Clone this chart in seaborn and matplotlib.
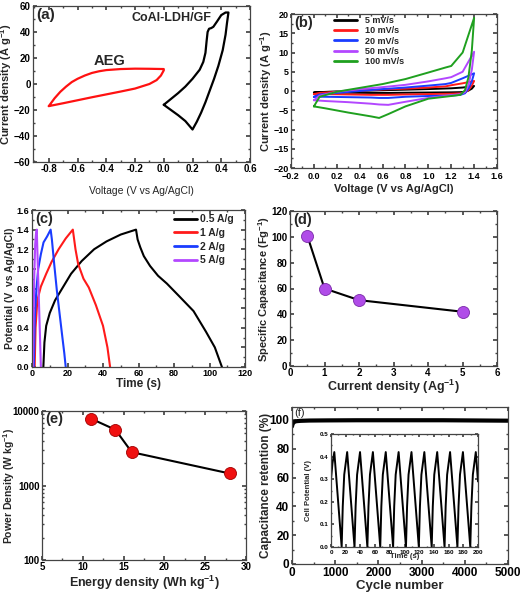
import matplotlib
matplotlib.use("Agg")
import matplotlib.pyplot as plt
import numpy as np
import pandas as pd
import seaborn as sns
from matplotlib.ticker import MultipleLocator, AutoMinorLocator, LogLocator, NullFormatter

# ── Data ─────────────────────────────────────────────────────────────────────
# (a) three-electrode CVs
aeg_v = [-0.8, -0.76, -0.72, -0.68, -0.64, -0.6, -0.55, -0.5, -0.45, -0.4, -0.3, -0.2, -0.1, 0.0,
         0.0, -0.02, -0.05, -0.1, -0.2, -0.3, -0.4, -0.5, -0.6, -0.7, -0.8]
aeg_i = [-17, -11, -6, -2, 1.5, 4, 6.5, 8.5, 9.8, 10.7, 11.5, 11.8, 11.7, 11.5,
         10.5, 6.5, 3, 0, -3.5, -5.8, -8, -10.2, -12.5, -14.8, -17]
ldh_v = [0.0, 0.05, 0.1, 0.15, 0.2, 0.23, 0.26, 0.29, 0.32, 0.35, 0.38, 0.41, 0.43, 0.44, 0.45,
         0.43, 0.4, 0.37, 0.345, 0.33, 0.315, 0.305, 0.298, 0.29, 0.275, 0.25, 0.2, 0.15, 0.1, 0.05, 0.0]
ldh_i = [-16, -20, -24, -28.5, -35, -29, -22, -14, -5, 4, 14, 26, 38, 47, 55,
         55, 53, 48, 44, 43, 42.5, 40, 33, 24, 17, 11, 4, -2, -7, -11.5, -16]

# (b) CVs at different scan rates
cv_v = [0.0, 0.05, 0.2, 0.4, 0.6, 0.8, 1.0, 1.15, 1.2, 1.3, 1.4,
        1.38, 1.35, 1.32, 1.28, 1.2, 1.0, 0.8, 0.65, 0.57, 0.5, 0.3, 0.1, 0.0]
cv_5 = [-0.4, -0.3, -0.1, 0.05, 0.2, 0.35, 0.5, 0.65, 0.7, 0.9, 1.3,
        0.6, 0.1, -0.2, -0.3, -0.35, -0.4, -0.45, -0.5, -0.5, -0.5, -0.45, -0.4, -0.4]
cv_10 = [-0.8, -0.5, -0.2, 0.1, 0.4, 0.6, 0.9, 1.2, 1.5, 2.0, 2.6,
         1.4, 0.2, -0.4, -0.6, -0.7, -0.8, -0.9, -1.0, -1.0, -1.0, -0.9, -0.8, -0.8]
cv_20 = [-1.5, -0.9, -0.5, 0.0, 0.5, 0.9, 1.4, 1.8, 2.1, 3.3, 4.6,
         2.5, 0.6, -0.6, -1.0, -1.2, -1.3, -1.5, -1.8, -1.8, -1.7, -1.6, -1.5, -1.5]
cv_50 = [-2.4, -1.2, -0.2, 0.5, 1.0, 1.6, 2.5, 3.3, 3.6, 5.0, 10.2,
         5.5, 1.5, -0.3, -0.8, -1.1, -1.8, -2.8, -3.6, -3.5, -3.3, -2.9, -2.6, -2.4]
cv_100 = [-4.0, -1.5, -0.2, 0.8, 1.8, 3.1, 4.8, 6.1, 6.5, 10.0, 19.0,
          10.5, 3.5, 0.2, -1.0, -1.3, -2.0, -4.0, -6.0, -7.0, -6.6, -5.6, -4.5, -4.0]
scan_labels = ["5 mV/s", "10 mV/s", "20 mV/s", "50 mV/s", "100 mV/s"]

# (c) galvanostatic charge/discharge
gcd_05_t = [6.4, 7, 8, 10, 13, 17, 22, 28, 35, 42, 50, 58.6,
            59.5, 61, 63, 66.5, 71, 76, 83, 91, 98, 103, 107]
gcd_05_v = [0.0, 0.25, 0.42, 0.55, 0.68, 0.8, 0.95, 1.08, 1.2, 1.28, 1.35, 1.4,
            1.3, 1.22, 1.13, 1.03, 0.93, 0.85, 0.72, 0.57, 0.36, 0.2, 0.0]
gcd_1_t = [1.5, 2, 3, 5, 8, 11, 15, 19, 23,
           23.6, 24.5, 26, 29, 32, 36, 40, 42.5, 44]
gcd_1_v = [0.0, 0.4, 0.68, 0.82, 0.95, 1.07, 1.2, 1.31, 1.4,
           1.32, 1.2, 1.05, 0.9, 0.81, 0.63, 0.42, 0.2, 0.0]
gcd_2_t = [1.0, 1.6, 2.5, 3.5, 5, 6.5, 8.5, 10.5,
           11.2, 12.5, 14, 15.5, 17, 18.2, 19]
gcd_2_v = [0.0, 0.5, 0.8, 1.0, 1.15, 1.27, 1.33, 1.4,
           1.3, 1.05, 0.78, 0.55, 0.32, 0.14, 0.0]
gcd_5_t = [0.5, 0.9, 1.3, 1.8, 2.2, 2.7, 3.0, 3.5, 4.1, 4.6, 5.0]
gcd_5_v = [0.0, 0.5, 0.95, 1.25, 1.35, 1.4, 1.2, 0.9, 0.55, 0.25, 0.0]
gcd_labels = ["0.5 A/g", "1 A/g", "2 A/g", "5 A/g"]

# (d) specific capacitance vs current density
cur_density = [0.5, 1, 2, 5]
spec_cap = [101, 60, 51, 42]

# (e) Ragone plot
energy_density = [11, 14, 16, 28]
power_density = [7900, 5600, 2800, 1450]

# (f) cycling stability + inset
cycle_no = [0, 10, 25, 50, 80, 120, 200, 400, 800, 1500, 2500, 3500, 4500, 5000]
retention = [95.5, 96.8, 97.8, 98.6, 99.0, 99.2, 99.4, 99.6, 99.7, 99.8, 99.8, 99.8, 99.6, 99.5]
inset_t = [0, 2, 4.5, 14.5, 16, 18, 22, 32, 33.5, 35.5, 39.5, 49.5, 51, 53, 57,
           67, 68.5, 70.5, 74.5, 84.5, 86, 88, 92, 102, 103.5, 105.5, 109.5,
           119.5, 121, 123, 127, 137, 138.5, 140.5, 144.5, 154.5, 156, 158, 162,
           172, 173.5, 175.5, 179.5, 189.5, 191, 193, 197, 200]
inset_v = [0.30, 0.37, 0.42, 0.0, 0.18, 0.32, 0.42, 0.0, 0.18, 0.32, 0.42, 0.0, 0.18, 0.32, 0.42,
           0.0, 0.18, 0.32, 0.42, 0.0, 0.18, 0.32, 0.42, 0.0, 0.18, 0.32, 0.42,
           0.0, 0.18, 0.32, 0.42, 0.0, 0.18, 0.32, 0.42, 0.0, 0.18, 0.32, 0.42,
           0.0, 0.18, 0.32, 0.42, 0.0, 0.18, 0.32, 0.42, 0.29]

# ── Style ─────────────────────────────────────────────────────────────────────
sns.set_theme(style="ticks")
plt.rcParams.update({
    "font.family": ["Liberation Sans", "DejaVu Sans"],
    "font.weight": "bold",
    "axes.labelweight": "bold",
    "mathtext.fontset": "custom",
    "mathtext.rm": "Liberation Sans:bold",
    "mathtext.it": "Liberation Sans:bold",
    "mathtext.bf": "Liberation Sans:bold",
    "mathtext.sf": "Liberation Sans:bold",
    "axes.edgecolor": "#444444",
    "axes.linewidth": 0.9,
    "xtick.direction": "in",
    "ytick.direction": "in",
    "xtick.top": True,
    "ytick.right": True,
    "xtick.major.size": 3,
    "ytick.major.size": 3,
    "xtick.minor.size": 1.6,
    "ytick.minor.size": 1.6,
    "xtick.major.pad": 1.8,
    "ytick.major.pad": 1.8,
})

W, H = 521, 593
COLORS = ["black", "#ff1a1a", "#1a3cff", "#b347ff", "#1fa01f"]


def add_ax(fig, x1, y1, x2, y2):
    ax = fig.add_axes([x1 / W, 1 - y2 / H, (x2 - x1) / W, (y2 - y1) / H])
    ax._px = (x1, y1, x2, y2)
    return ax


def place_labels(ax, ylab_x, xlab_y):
    """Put axis-label centres at given pixel positions (figure, from top-left)."""
    x1, y1, x2, y2 = ax._px
    ax.yaxis.set_label_coords((ylab_x - x1) / (x2 - x1), 0.5)
    ax.yaxis.label.set_va("center")
    ax.xaxis.set_label_coords(0.5, (y2 - xlab_y) / (y2 - y1))
    ax.xaxis.label.set_va("center")


def style_ax(ax, tick_fs, xmaj, ymaj, log_y=False):
    ax.xaxis.set_major_locator(MultipleLocator(xmaj))
    ax.xaxis.set_minor_locator(AutoMinorLocator(2))
    if not log_y:
        ax.yaxis.set_major_locator(MultipleLocator(ymaj))
        ax.yaxis.set_minor_locator(AutoMinorLocator(2))
    ax.tick_params(which="both", labelsize=tick_fs, colors="#444444", labelcolor="black")
    for lab in ax.get_xticklabels() + ax.get_yticklabels():
        lab.set_fontweight("bold")


fig = plt.figure(figsize=(W / 100, H / 100), dpi=100)

# ── (a) ──────────────────────────────────────────────────────────────────────
ax = add_ax(fig, 33, 6, 250, 162)
sns.lineplot(x=aeg_v, y=aeg_i, sort=False, estimator=None, color="#ff1111", lw=1.6, ax=ax)
sns.lineplot(x=ldh_v, y=ldh_i, sort=False, estimator=None, color="black", lw=1.6, ax=ax)
ax.set_xlim(-0.91, 0.6)
ax.set_ylim(-60, 60)
style_ax(ax, 7, 0.2, 20)
ax.set_xticks([-0.8, -0.6, -0.4, -0.2, 0.0, 0.2, 0.4, 0.6])
ax.set_xticklabels(["-0.8", "-0.6", "-0.4", "-0.2", "0.0", "0.2", "0.4", "0.6"])
ax.set_xlabel("Voltage (V vs Ag/AgCl)", fontsize=7.5, fontweight="normal")
ax.set_ylabel(r"Current density (A g$^{-1}$)", fontsize=8)
place_labels(ax, 6.5, 191)
ax.text(0.015, 0.99, "(a)", transform=ax.transAxes, fontsize=11, fontweight="bold", va="top")
ax.text(-0.38, 17.5, "AEG", fontsize=10.5, fontweight="bold", ha="center", va="center")
ax.text(0.05, 51, "CoAl-LDH/GF", fontsize=9, fontweight="bold", ha="center", va="center")

# ── (b) ──────────────────────────────────────────────────────────────────────
ax = add_ax(fig, 291, 14, 497, 168)
cv_df = pd.concat([
    pd.DataFrame({"V": cv_v, "I": vals, "rate": lab})
    for vals, lab in zip([cv_5, cv_10, cv_20, cv_50, cv_100], scan_labels)
])
sns.lineplot(data=cv_df, x="V", y="I", hue="rate", sort=False, estimator=None,
             palette=COLORS, lw=1.4, ax=ax)
ax.set_xlim(-0.2, 1.6)
ax.set_ylim(-20, 20)
style_ax(ax, 6.5, 0.2, 5)
ax.tick_params(axis="x", pad=2.8)
ax.set_xlabel("Voltage (V vs Ag/AgCl)", fontsize=8)
ax.set_ylabel(r"Current density (A g$^{-1}$)", fontsize=8)
place_labels(ax, 266, 189)
handles, labels = ax.get_legend_handles_labels()
for h in handles:
    h.set_linewidth(2)
ax.legend(handles, labels, loc="upper left", bbox_to_anchor=(0.2, 1.0), frameon=False,
          prop={"weight": "bold", "size": 6.5}, labelspacing=0.15,
          handlelength=2.6, handletextpad=0.8, borderpad=0.1, borderaxespad=0.1)
ax.text(0.015, 0.99, "(b)", transform=ax.transAxes, fontsize=10.5, fontweight="bold", va="top")

# ── (c) ──────────────────────────────────────────────────────────────────────
ax = add_ax(fig, 32, 210, 245, 367)
for t, v, col, lab in zip([gcd_05_t, gcd_1_t, gcd_2_t, gcd_5_t],
                          [gcd_05_v, gcd_1_v, gcd_2_v, gcd_5_v],
                          COLORS[:4], gcd_labels):
    sns.lineplot(x=t, y=v, sort=False, estimator=None, color=col, lw=1.5, ax=ax, label=lab)
ax.set_xlim(0, 120)
ax.set_ylim(0, 1.6)
style_ax(ax, 6.5, 20, 0.2)
ax.set_xlabel("Time (s)", fontsize=8.5)
ax.set_ylabel("Potential (V  vs Ag/AgCl)", fontsize=7.5)
place_labels(ax, 10, 384)
leg = ax.legend(loc="upper left", bbox_to_anchor=(0.655, 0.985), frameon=False,
                prop={"weight": "bold", "size": 7.5}, labelspacing=0.35,
                handlelength=2.2, handletextpad=0.3, borderpad=0.1, borderaxespad=0.1)
for h in leg.get_lines():
    h.set_linewidth(2)
ax.text(0.015, 0.99, "(c)", transform=ax.transAxes, fontsize=10.5, fontweight="bold", va="top")

# ── (d) ──────────────────────────────────────────────────────────────────────
ax = add_ax(fig, 290, 211, 497, 366)
sns.lineplot(x=cur_density, y=spec_cap, color="black", lw=1.5, ax=ax, zorder=2)
sns.scatterplot(x=cur_density, y=spec_cap, color="#b04ce8", edgecolor="#7a2aa8", linewidth=0.6,
                s=75, ax=ax, zorder=3)
ax.set_xlim(0, 6)
ax.set_ylim(0, 120)
style_ax(ax, 7, 1, 20)
ax.set_xlabel(r"Current density (Ag$^{-1}$)", fontsize=9)
ax.set_ylabel(r"Specific Capacitance (Fg$^{-1}$)", fontsize=8)
place_labels(ax, 264.5, 387)
ax.text(0.015, 0.99, "(d)", transform=ax.transAxes, fontsize=10.5, fontweight="bold", va="top")

# ── (e) ──────────────────────────────────────────────────────────────────────
ax = add_ax(fig, 42, 411, 246, 560)
sns.lineplot(x=energy_density, y=power_density, color="black", lw=1.5, ax=ax, zorder=2)
sns.scatterplot(x=energy_density, y=power_density, color="#f01010", edgecolor="#a00000",
                linewidth=0.6, s=75, ax=ax, zorder=3)
ax.set_yscale("log")
ax.set_xlim(5, 30)
ax.set_ylim(100, 10000)
style_ax(ax, 7, 5, None, log_y=True)
ax.set_yticks([100, 1000, 10000])
ax.set_yticklabels(["100", "1000", "10000"], fontweight="bold")
ax.yaxis.set_minor_locator(LogLocator(base=10, subs=np.arange(2, 10)))
ax.yaxis.set_minor_formatter(NullFormatter())
ax.set_xlabel(r"Energy density (Wh kg$^{-1}$)", fontsize=9)
ax.set_ylabel(r"Power Density (W kg$^{-1}$)", fontsize=7.5)
place_labels(ax, 9, 583)
ax.text(0.015, 0.99, "(e)", transform=ax.transAxes, fontsize=10.5, fontweight="bold", va="top")

# ── (f) ──────────────────────────────────────────────────────────────────────
ax = add_ax(fig, 292, 407, 508, 564)
sns.lineplot(x=cycle_no, y=retention, color="black", lw=3, ax=ax)
ax.set_xlim(0, 5000)
ax.set_ylim(0, 109)
style_ax(ax, 8.5, 1000, 20)
ax.set_xlabel("Cycle number", fontsize=9.5)
ax.set_ylabel("Capacitance retention (%)", fontsize=8.5)
place_labels(ax, 265.5, 586)
ax.text(0.01, 0.995, "(f)", transform=ax.transAxes, fontsize=8, fontweight="normal", va="top")

axi = add_ax(fig, 331, 434, 478, 547)
sns.lineplot(x=inset_t, y=inset_v, sort=False, estimator=None, color="black", lw=1.4, ax=axi)
axi.set_xlim(0, 200)
axi.set_ylim(0, 0.5)
style_ax(axi, 4.5, 20, 0.1)
axi.tick_params(which="major", length=2)
axi.tick_params(which="minor", length=1)
axi.set_xlabel("Time (s)", fontsize=5.5)
axi.set_ylabel("Cell Potential (V)", fontsize=5.5)
place_labels(axi, 308, 557)

fig.savefig("out.png", dpi=100)
